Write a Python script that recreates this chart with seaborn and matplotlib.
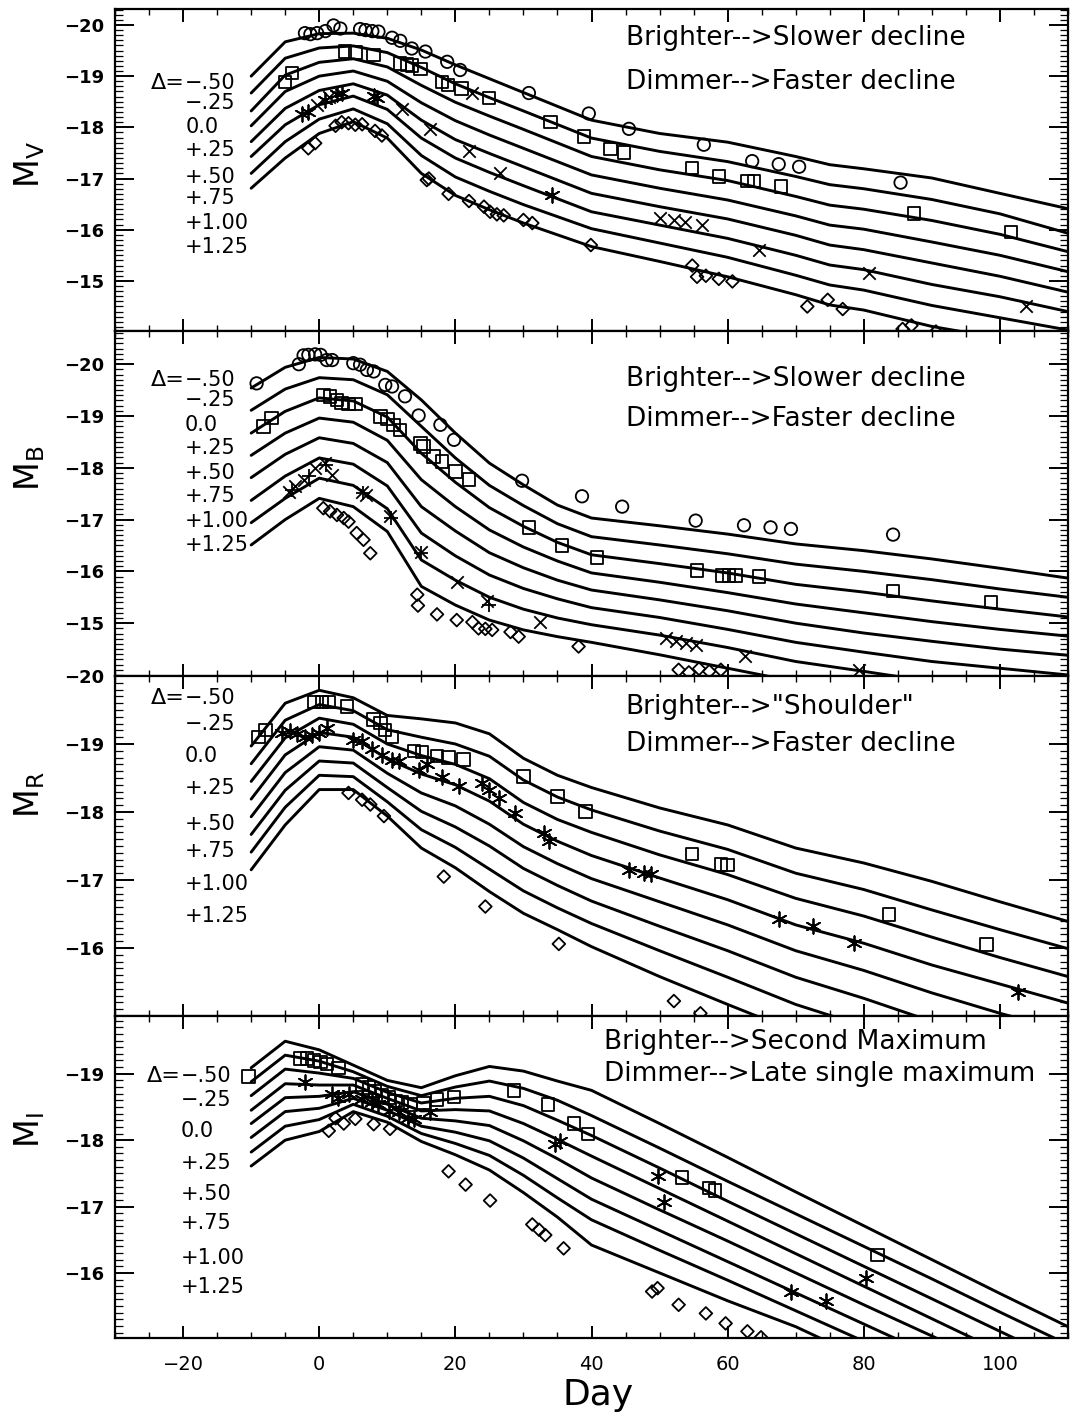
import matplotlib
matplotlib.use("Agg")
import matplotlib.pyplot as plt
from matplotlib.ticker import MultipleLocator
import pandas as pd
import seaborn as sns

# ---------------------------------------------------------------- data
delta_labels = ["\u2212.50", "\u2212.25", "0.0", "+.25", "+.50", "+.75", "+1.00", "+1.25"]

# V band templates, one list per Delta
v_days = [-10, -5, 0, 5, 10, 15, 20, 25, 30, 40, 50, 60, 70, 75, 80, 90, 100, 110]
v_curves = [
    [-19.00, -19.67, -19.83, -19.84, -19.74, -19.51, -19.22, -18.95, -18.68, -18.14, -17.88, -17.71, -17.43, -17.27, -17.19, -17.01, -16.71, -16.41],
    [-18.67, -19.35, -19.55, -19.59, -19.46, -19.17, -18.85, -18.58, -18.32, -17.79, -17.53, -17.33, -17.04, -16.88, -16.80, -16.59, -16.31, -15.93],
    [-18.32, -19.02, -19.27, -19.34, -19.18, -18.82, -18.49, -18.22, -17.96, -17.43, -17.17, -16.96, -16.65, -16.48, -16.40, -16.18, -15.91, -15.57],
    [-18.03, -18.70, -19.00, -19.10, -18.90, -18.48, -18.13, -17.85, -17.59, -17.07, -16.81, -16.58, -16.27, -16.09, -16.01, -15.76, -15.50, -15.18],
    [-17.72, -18.37, -18.72, -18.85, -18.63, -18.14, -17.76, -17.49, -17.23, -16.71, -16.45, -16.21, -15.89, -15.70, -15.61, -15.35, -15.09, -14.78],
    [-17.43, -18.05, -18.44, -18.61, -18.35, -17.79, -17.40, -17.12, -16.86, -16.35, -16.09, -15.83, -15.50, -15.31, -15.22, -14.93, -14.69, -14.40],
    [-17.10, -17.72, -18.16, -18.36, -18.07, -17.45, -17.03, -16.75, -16.49, -16.02, -15.74, -15.46, -15.11, -14.92, -14.82, -14.52, -14.28, -14.04],
    [-16.81, -17.40, -17.88, -18.11, -17.79, -17.10, -16.67, -16.39, -16.13, -15.67, -15.38, -15.08, -14.73, -14.53, -14.43, -14.11, -13.88, -13.62],
]

# B, R, I templates share one day grid
bri_days = [-10, -5, 0, 5, 10, 15, 20, 25, 30, 35, 40, 50, 60, 70, 80, 90, 100, 110]
b_curves = [
    [-19.54, -19.94, -20.13, -20.10, -19.86, -19.31, -18.67, -18.09, -17.67, -17.28, -17.03, -16.88, -16.72, -16.53, -16.40, -16.24, -16.06, -15.87],
    [-19.11, -19.52, -19.74, -19.70, -19.41, -18.80, -18.19, -17.66, -17.27, -16.92, -16.67, -16.51, -16.34, -16.14, -16.00, -15.84, -15.66, -15.50],
    [-18.67, -19.09, -19.35, -19.29, -18.98, -18.28, -17.72, -17.23, -16.87, -16.56, -16.32, -16.15, -15.97, -15.75, -15.60, -15.43, -15.27, -15.12],
    [-18.24, -18.67, -18.96, -18.88, -18.53, -17.77, -17.25, -16.80, -16.47, -16.20, -15.97, -15.79, -15.59, -15.37, -15.20, -15.03, -14.88, -14.75],
    [-17.81, -18.26, -18.58, -18.47, -18.10, -17.25, -16.78, -16.36, -16.07, -15.83, -15.64, -15.45, -15.24, -15.00, -14.81, -14.65, -14.50, -14.38],
    [-17.37, -17.84, -18.19, -18.07, -17.65, -16.74, -16.30, -15.93, -15.67, -15.47, -15.30, -15.11, -14.88, -14.63, -14.44, -14.26, -14.13, -14.00],
    [-16.94, -17.41, -17.80, -17.66, -17.21, -16.22, -15.83, -15.50, -15.27, -15.10, -14.97, -14.77, -14.53, -14.26, -14.07, -13.87, -13.71, -13.55],
    [-16.51, -17.00, -17.41, -17.25, -16.77, -15.71, -15.35, -15.06, -14.87, -14.74, -14.63, -14.39, -14.13, -13.87, -13.65, -13.46, -13.29, -13.13],
]
r_curves = [
    [-18.97, -19.60, -19.79, -19.68, -19.42, -19.37, -19.31, -19.15, -18.79, -18.54, -18.36, -18.06, -17.81, -17.47, -17.25, -16.98, -16.68, -16.39],
    [-18.71, -19.35, -19.58, -19.49, -19.21, -19.10, -19.00, -18.82, -18.47, -18.22, -18.03, -17.72, -17.45, -17.10, -16.86, -16.56, -16.27, -15.99],
    [-18.45, -19.09, -19.38, -19.29, -19.00, -18.83, -18.70, -18.49, -18.14, -17.89, -17.70, -17.37, -17.08, -16.73, -16.47, -16.16, -15.86, -15.58],
    [-18.19, -18.84, -19.17, -19.10, -18.78, -18.56, -18.40, -18.16, -17.82, -17.57, -17.36, -17.03, -16.71, -16.34, -16.07, -15.75, -15.47, -15.19],
    [-17.93, -18.58, -18.96, -18.91, -18.57, -18.28, -18.09, -17.82, -17.49, -17.24, -17.02, -16.68, -16.34, -15.96, -15.67, -15.34, -15.04, -14.77],
    [-17.67, -18.32, -18.75, -18.72, -18.36, -18.01, -17.78, -17.50, -17.17, -16.92, -16.69, -16.32, -15.96, -15.57, -15.26, -14.92, -14.63, -14.33],
    [-17.41, -18.07, -18.54, -18.52, -18.15, -17.74, -17.48, -17.16, -16.84, -16.59, -16.36, -15.96, -15.57, -15.17, -14.85, -14.50, -14.19, -13.89],
    [-17.15, -17.81, -18.33, -18.33, -17.94, -17.47, -17.18, -16.83, -16.51, -16.27, -16.02, -15.58, -15.17, -14.77, -14.43, -14.09, -13.75, -13.45],
]
i_curves = [
    [-19.09, -19.49, -19.36, -19.13, -18.90, -18.79, -18.97, -19.11, -19.04, -18.89, -18.75, -18.25, -17.74, -17.22, -16.71, -16.20, -15.69, -15.19],
    [-18.88, -19.28, -19.19, -19.03, -18.81, -18.67, -18.80, -18.89, -18.78, -18.60, -18.37, -17.88, -17.38, -16.89, -16.40, -15.91, -15.41, -14.92],
    [-18.67, -19.07, -19.01, -18.93, -18.72, -18.56, -18.63, -18.66, -18.52, -18.30, -18.07, -17.58, -17.08, -16.59, -16.10, -15.61, -15.12, -14.63],
    [-18.45, -18.85, -18.83, -18.83, -18.63, -18.44, -18.46, -18.44, -18.25, -18.01, -17.76, -17.27, -16.78, -16.29, -15.80, -15.31, -14.82, -14.33],
    [-18.25, -18.64, -18.66, -18.73, -18.54, -18.33, -18.29, -18.22, -17.99, -17.72, -17.43, -16.95, -16.48, -16.00, -15.52, -15.05, -14.57, -14.08],
    [-18.04, -18.43, -18.48, -18.63, -18.45, -18.21, -18.12, -17.99, -17.73, -17.42, -17.11, -16.64, -16.17, -15.70, -15.23, -14.76, -14.30, -13.82],
    [-17.82, -18.21, -18.31, -18.54, -18.36, -18.10, -17.95, -17.77, -17.47, -17.13, -16.80, -16.34, -15.89, -15.43, -14.97, -14.52, -14.05, -13.57],
    [-17.61, -18.00, -18.13, -18.43, -18.27, -17.98, -17.78, -17.55, -17.21, -16.84, -16.42, -16.00, -15.58, -15.19, -14.71, -14.28, -13.85, -13.39],
]

# ---- observed supernovae, V band
v_circle_day = [-2.1, -1.3, -0.3, 0.9, 2.1, 3.1, 6.0, 6.8, 7.8, 8.7, 10.7, 11.9, 13.6, 15.6, 18.8, 20.7, 30.8, 39.6, 45.5, 56.5, 63.6, 67.5, 70.5, 85.4]
v_circle_mag = [-19.84, -19.82, -19.84, -19.88, -19.99, -19.93, -19.92, -19.90, -19.88, -19.87, -19.75, -19.69, -19.54, -19.48, -19.28, -19.12, -18.67, -18.27, -17.97, -17.66, -17.34, -17.28, -17.23, -16.92]
v_square_day = [-5.0, -4.0, 3.8, 5.3, 8.0, 11.9, 12.9, 13.6, 14.9, 18.0, 18.9, 20.9, 24.9, 34.0, 38.9, 42.8, 44.8, 54.8, 58.7, 62.9, 63.9, 67.8, 87.4, 101.6]
v_square_mag = [-18.89, -19.06, -19.48, -19.46, -19.41, -19.25, -19.23, -19.21, -19.14, -18.88, -18.83, -18.76, -18.57, -18.10, -17.82, -17.58, -17.51, -17.20, -17.04, -16.95, -16.95, -16.84, -16.32, -15.95]
v_cross_day = [-0.3, 1.4, 12.2, 16.3, 22.0, 22.5, 26.6, 50.1, 52.1, 53.8, 56.3, 64.6, 80.8, 103.9]
v_cross_mag = [-18.44, -18.60, -18.36, -17.97, -17.53, -18.67, -17.10, -16.22, -16.19, -16.16, -16.09, -15.61, -15.15, -14.50]
v_star_day = [-2.5, -1.7, 0.9, 2.6, 3.3, 8.0, 8.5, 34.2]
v_star_mag = [-18.27, -18.29, -18.54, -18.65, -18.68, -18.62, -18.58, -16.67]
v_diamond_day = [-1.6, -0.6, 2.4, 3.3, 4.3, 5.3, 6.3, 8.2, 9.2, 15.8, 16.1, 19.0, 22.0, 24.2, 25.1, 26.1, 27.1, 30.0, 31.3, 39.9, 54.8, 55.5, 56.8, 58.7, 60.7, 71.7, 74.7, 76.9, 85.7, 87.0, 90.6]
v_diamond_mag = [-17.59, -17.69, -18.03, -18.10, -18.08, -18.05, -18.06, -17.93, -17.84, -16.97, -17.00, -16.70, -16.56, -16.45, -16.35, -16.30, -16.28, -16.19, -16.13, -15.70, -15.30, -15.08, -15.10, -15.04, -14.99, -14.50, -14.63, -14.45, -14.06, -14.13, -14.01]

# ---- B band
b_circle_day = [-9.2, -3.0, -2.3, -1.6, -0.6, 0.2, 1.1, 1.9, 5.0, 6.0, 7.0, 8.0, 9.7, 10.7, 12.6, 14.6, 17.8, 19.8, 29.8, 38.6, 44.5, 55.3, 62.4, 66.3, 69.3, 84.3]
b_circle_mag = [-19.63, -20.00, -20.17, -20.18, -20.19, -20.18, -20.08, -20.08, -20.02, -19.99, -19.89, -19.86, -19.60, -19.57, -19.38, -19.01, -18.83, -18.54, -17.75, -17.45, -17.25, -16.98, -16.89, -16.85, -16.82, -16.71]
b_square_day = [-8.2, -7.0, 0.6, 1.6, 2.6, 3.3, 4.3, 5.3, 9.0, 10.0, 10.9, 11.9, 14.9, 15.3, 16.8, 18.0, 20.0, 22.0, 30.8, 35.7, 40.8, 55.5, 59.2, 60.2, 61.2, 64.6, 84.3, 98.7]
b_square_mag = [-18.80, -18.96, -19.41, -19.38, -19.31, -19.25, -19.23, -19.23, -18.99, -18.94, -18.83, -18.73, -18.47, -18.41, -18.22, -18.12, -17.93, -17.77, -16.85, -16.50, -16.27, -16.02, -15.92, -15.92, -15.92, -15.90, -15.62, -15.41]
b_cross_day = [-4.5, -3.5, -2.3, -0.6, 0.9, 1.9, 6.3, 6.8, 10.4, 14.9, 20.2, 24.7, 32.5, 50.9, 52.4, 53.9, 55.3, 62.6, 79.3]
b_cross_mag = [-17.54, -17.64, -17.77, -17.99, -18.09, -17.86, -17.54, -17.48, -17.06, -16.38, -15.80, -15.42, -15.03, -14.71, -14.65, -14.61, -14.58, -14.36, -14.09]
b_plus_day = [-4.0, -1.5, 1.0, 6.5, 10.6, 15.0, 25.0]
b_plus_mag = [-17.58, -17.85, -18.05, -17.52, -17.03, -16.35, -15.36]
b_diamond_day = [0.6, 1.6, 2.6, 3.6, 4.3, 5.5, 6.5, 7.5, 14.4, 14.5, 17.3, 20.2, 22.5, 23.4, 24.4, 25.4, 28.1, 29.3, 38.1, 52.8, 54.3, 55.8, 57.3, 59.0]
b_diamond_mag = [-17.22, -17.16, -17.09, -17.03, -16.96, -16.74, -16.61, -16.35, -15.55, -15.34, -15.17, -15.06, -15.02, -14.90, -14.89, -14.87, -14.83, -14.74, -14.55, -14.10, -14.05, -14.12, -14.07, -14.10]

# ---- R band
r_square_day = [-8.9, -7.9, -0.8, 0.4, 1.4, 4.1, 8.0, 9.0, 9.7, 10.7, 13.9, 15.1, 17.3, 19.0, 21.2, 30.0, 35.0, 39.1, 54.8, 59.0, 60.0, 83.7, 98.0]
r_square_mag = [-19.10, -19.21, -19.62, -19.62, -19.62, -19.55, -19.36, -19.31, -19.21, -19.10, -18.90, -18.88, -18.82, -18.80, -18.77, -18.52, -18.23, -18.01, -17.38, -17.23, -17.22, -16.49, -16.05]
r_star_day = [-5.5, -4.3, -3.3, -2.1, -1.1, -0.1, 1.1, 5.0, 6.3, 7.7, 9.2, 10.7, 11.7, 14.6, 15.8, 18.0, 20.5, 23.9, 24.9, 26.4, 28.8, 33.0, 33.7, 45.5, 47.7, 48.7, 67.6, 72.5, 78.6, 102.6]
r_star_mag = [-19.16, -19.19, -19.14, -19.11, -19.13, -19.16, -19.24, -19.06, -19.04, -18.92, -18.84, -18.77, -18.75, -18.62, -18.70, -18.52, -18.38, -18.43, -18.33, -18.21, -17.99, -17.69, -17.57, -17.14, -17.10, -17.09, -16.42, -16.32, -16.07, -15.36]
r_diamond_day = [4.3, 6.3, 7.5, 9.5, 18.3, 24.4, 35.2, 52.1, 56.0]
r_diamond_mag = [-18.28, -18.18, -18.11, -17.94, -17.05, -16.61, -16.06, -15.22, -15.04]

# ---- I band
i_square_day = [-10.4, -2.8, -1.8, -0.8, 0.2, 1.1, 2.8, 6.3, 7.3, 8.2, 9.2, 10.2, 11.2, 12.2, 13.4, 15.3, 17.3, 19.8, 28.6, 33.6, 37.4, 39.5, 53.3, 57.3, 58.1, 82.0]
i_square_mag = [-18.96, -19.23, -19.23, -19.20, -19.18, -19.15, -19.09, -18.84, -18.79, -18.74, -18.67, -18.64, -18.59, -18.57, -18.54, -18.56, -18.61, -18.65, -18.75, -18.54, -18.25, -18.09, -17.44, -17.28, -17.24, -16.27]
i_star_day = [-2.1, 1.9, 2.8, 4.3, 6.3, 7.7, 8.7, 10.2, 11.7, 13.1, 13.9, 16.3, 34.7, 35.4, 49.7, 50.6, 69.3, 74.4, 80.3]
i_star_mag = [-18.87, -18.70, -18.64, -18.70, -18.62, -18.57, -18.55, -18.44, -18.42, -18.34, -18.32, -18.42, -17.94, -17.99, -17.46, -17.07, -15.72, -15.57, -15.92]
i_diamond_day = [1.4, 2.4, 3.6, 5.3, 8.0, 10.4, 19.0, 21.5, 25.1, 31.3, 32.3, 33.2, 35.9, 48.9, 49.7, 52.8, 56.8, 59.7, 62.9, 64.9]
i_diamond_mag = [-18.14, -18.33, -18.25, -18.32, -18.24, -18.17, -17.53, -17.33, -17.09, -16.73, -16.65, -16.57, -16.37, -15.72, -15.77, -15.52, -15.39, -15.24, -15.12, -15.03]

# ---------------------------------------------------------------- style
sns.set_style("ticks")
plt.rcParams["font.family"] = ["DejaVu Sans"]
plt.rcParams.update({
    "axes.linewidth": 1.6,
    "axes.edgecolor": "black",
    "text.color": "black",
    "axes.labelcolor": "black",
    "xtick.color": "black",
    "ytick.color": "black",
})

ASTERISK = (6, 2, 0)
MARKERS = {
    "circle": dict(marker="o", s=80, facecolor="none", edgecolor="black", linewidth=1.3),
    "square": dict(marker="s", s=80, facecolor="none", edgecolor="black", linewidth=1.3),
    "diamond": dict(marker="D", s=42, facecolor="none", edgecolor="black", linewidth=1.3),
    "cross": dict(marker="x", s=80, color="black", linewidth=1.3),
    "plus": dict(marker="+", s=90, color="black", linewidth=1.3),
    "star": dict(marker=ASTERISK, s=110, color="black", linewidth=1.3),
}


def templates_frame(days, curves):
    rows = []
    for lab, mags in zip(delta_labels, curves):
        for d, m in zip(days, mags):
            rows.append({"day": d, "mag": m, "delta": lab})
    return pd.DataFrame(rows)


fig = plt.figure(figsize=(10.75, 14.19), dpi=100)

left, width = 0.107, 0.8865
panels = [
    dict(rect=[left, 0.7667, width, 0.2269], ylim=(-14.02, -20.31), yt=[-20, -19, -18, -17, -16, -15],
         days=v_days, curves=v_curves, ylabel=r"$\mathregular{M_V}$", ylab_y=0.8837,
         points=[("circle", v_circle_day, v_circle_mag), ("square", v_square_day, v_square_mag),
                 ("cross", v_cross_day, v_cross_mag), ("star", v_star_day, v_star_mag),
                 ("diamond", v_diamond_day, v_diamond_mag)],
         note=("Brighter-->Slower decline", "Dimmer-->Faster decline"), note_x=45.0, note_y=(-19.74, -18.89),
         lab_x=-19.7, lab_y=[-18.87, -18.48, -18.01, -17.56, -17.03, -16.62, -16.13, -15.66]),
    dict(rect=[left, 0.5236, width, 0.2431], ylim=(-13.98, -20.64), yt=[-20, -19, -18, -17, -16, -15],
         days=bri_days, curves=b_curves, ylabel=r"$\mathregular{M_B}$", ylab_y=0.670,
         points=[("circle", b_circle_day, b_circle_mag), ("square", b_square_day, b_square_mag),
                 ("cross", b_cross_day, b_cross_mag), ("plus", b_plus_day, b_plus_mag),
                 ("diamond", b_diamond_day, b_diamond_mag)],
         note=("Brighter-->Slower decline", "Dimmer-->Faster decline"), note_x=45.0, note_y=(-19.72, -18.94),
         lab_x=-19.8, lab_y=[-19.69, -19.31, -18.82, -18.38, -17.90, -17.45, -16.97, -16.51]),
    dict(rect=[left, 0.2840, width, 0.2396], ylim=(-15.0, -20.0), yt=[-20, -19, -18, -17, -16],
         days=bri_days, curves=r_curves, ylabel=r"$\mathregular{M_R}$", ylab_y=0.4397,
         points=[("square", r_square_day, r_square_mag), ("star", r_star_day, r_star_mag),
                 ("diamond", r_diamond_day, r_diamond_mag)],
         note=("Brighter-->\"Shoulder\"", "Dimmer-->Faster decline"), note_x=45.0, note_y=(-19.54, -19.0),
         lab_x=-19.8, lab_y=[-19.67, -19.29, -18.82, -18.35, -17.83, -17.42, -16.94, -16.47]),
    dict(rect=[left, 0.0571, width, 0.2269], ylim=(-15.02, -19.87), yt=[-19, -18, -17, -16],
         days=bri_days, curves=i_curves, ylabel=r"$\mathregular{M_I}$", ylab_y=0.2037,
         points=[("square", i_square_day, i_square_mag), ("star", i_star_day, i_star_mag),
                 ("diamond", i_diamond_day, i_diamond_mag)],
         note=("Brighter-->Second Maximum", "Dimmer-->Late single maximum"), note_x=41.8, note_y=(-19.48, -19.0),
         lab_x=-20.3, lab_y=[-18.97, -18.61, -18.14, -17.66, -17.19, -16.75, -16.23, -15.79]),
]

for k, p in enumerate(panels):
    ax = fig.add_axes(p["rect"])
    df = templates_frame(p["days"], p["curves"])
    sns.lineplot(data=df, x="day", y="mag", units="delta", estimator=None, sort=False,
                 color="black", linewidth=2.1, ax=ax, legend=False)
    for kind, xs, ys in p["points"]:
        sns.scatterplot(x=xs, y=ys, ax=ax, legend=False, zorder=3, **MARKERS[kind])

    ax.set_xlim(-30, 110)
    ax.set_ylim(*p["ylim"])
    ax.set_yticks(p["yt"])
    ax.xaxis.set_major_locator(MultipleLocator(20))
    ax.xaxis.set_minor_locator(MultipleLocator(5))
    ax.yaxis.set_minor_locator(MultipleLocator(0.1))
    ax.tick_params(axis="both", which="both", direction="in", top=True, right=True)
    ax.tick_params(axis="y", which="major", length=14, width=1.4, labelsize=13, pad=8)
    ax.tick_params(axis="y", which="minor", length=6, width=0.9)
    ax.tick_params(axis="x", which="major", length=9, width=1.4, labelsize=14, pad=12)
    ax.tick_params(axis="x", which="minor", length=4.5, width=1.0)
    for lab in ax.get_yticklabels():
        lab.set_fontweight("bold")
    ax.set_xlabel("")
    ax.set_ylabel("")
    if k < 3:
        ax.tick_params(axis="x", labelbottom=False)

    # Delta column
    ax.text(p["lab_x"], p["lab_y"][0], "\u0394=", ha="right", va="center", fontsize=16)
    for lab, yy in zip(delta_labels, p["lab_y"]):
        ax.text(p["lab_x"], yy, lab, ha="left", va="center", fontsize=15)

    # trend notes
    for txt, yy in zip(p["note"], p["note_y"]):
        ax.text(p["note_x"], yy, txt, ha="left", va="center", fontsize=19)

    fig.text(0.028, p["ylab_y"], p["ylabel"], rotation=90, ha="center", va="center", fontsize=24)

fig.text(0.556, 1 - 1395 / 1419, "Day", ha="center", va="center", fontsize=26)

fig.savefig("out.png", dpi=100)
